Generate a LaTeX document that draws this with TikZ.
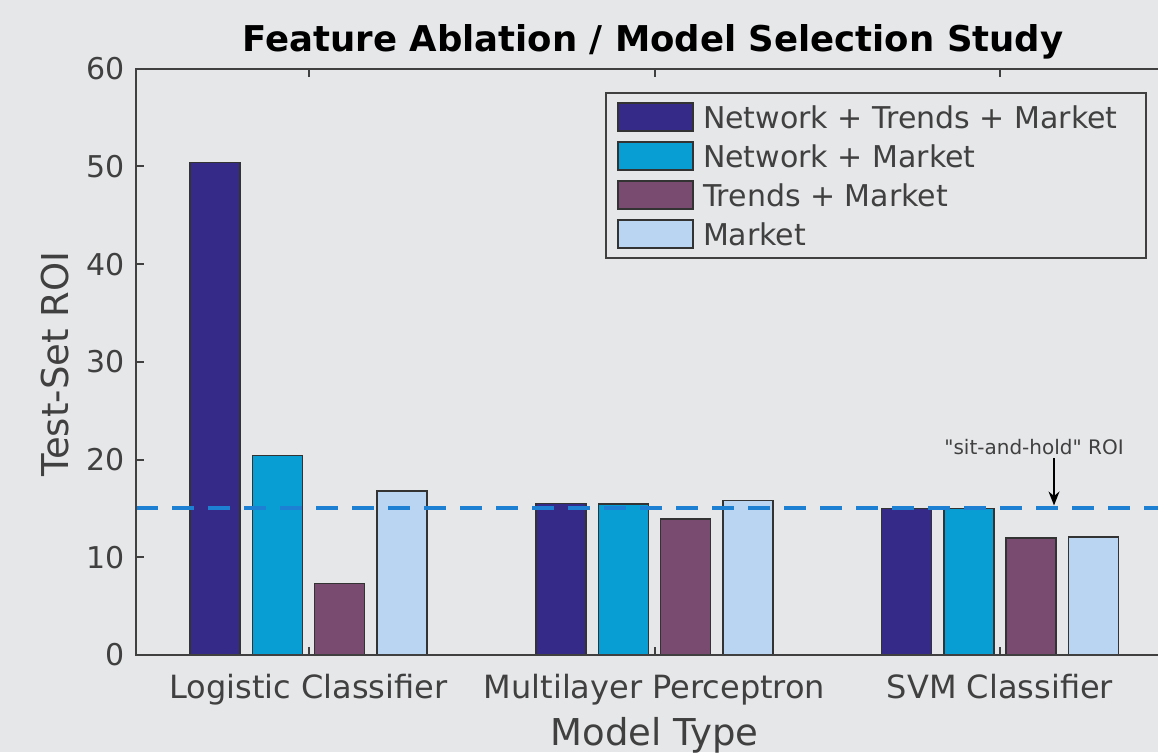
\documentclass[tikz,border=0pt]{standalone}
\usepackage{fontspec}
\setmainfont{DejaVu Sans}
\usetikzlibrary{positioning}
\usetikzlibrary{arrows.meta}

\definecolor{bggray}{RGB}{230,231,233}
\definecolor{axgray}{RGB}{64,64,64}
\definecolor{feat0}{RGB}{53,42,135}
\definecolor{feat1}{RGB}{8,158,212}
\definecolor{feat2}{RGB}{122,75,112}
\definecolor{feat3}{RGB}{186,213,242}
\definecolor{holdblue}{RGB}{30,128,210}

\tikzset{
  axisline/.style={axgray, line width=2pt},
  bar/.style={draw=black!80, line width=1.6pt},
  holdline/.style={holdblue, line width=4pt, dash pattern=on 22pt off 14pt},
  holdarrow/.style={-{Stealth[length=14pt, width=11pt]}, line width=1.4pt, black},
  ticklabel/.style={text=axgray, font=\fontsize{30}{34}\selectfont},
  catlabel/.style={text=axgray, font=\fontsize{32}{36}\selectfont},
  axlabel/.style={text=axgray, font=\fontsize{37}{42}\selectfont},
  titletext/.style={text=black, font=\bfseries\fontsize{35.5}{40}\selectfont},
  notetext/.style={text=axgray, font=\fontsize{20}{24}\selectfont},
  legendbox/.style={draw=axgray, line width=1.6pt, fill=bggray},
  swatch/.style={draw=black!80, line width=1.6pt, minimum width=75pt, minimum height=28pt, inner sep=0pt},
  legendtext/.style={text=axgray, font=\fontsize{30}{34}\selectfont, inner sep=0pt},
}

\begin{document}
\begin{tikzpicture}[x=1pt, y=1pt]
  \fill[bggray] (0,0) rectangle (1158,752); % figure background
  \useasboundingbox (0,0) rectangle (1158,752);

  \node[titletext, anchor=base] (title) at (653,700) {Feature Ablation / Model Selection Study};

  \begin{scope}[shift={(136,97)}, y=9.77pt] % data units: x in pt, y in ROI
    % one group of four bars per model
    \foreach \gx/\vals [count=\g] in {172.5/{50.4,20.4,7.3,16.8}, 518.5/{15.5,15.45,13.9,15.8}, 864/{15.0,15.0,12.0,12.1}} {
      \coordinate (group\g) at (\gx,0);
      \coordinate (gtop\g) at (\gx,60);
      \foreach \v [count=\k from 0] in \vals
        \draw[bar, fill=feat\k] ({\gx+(\k-1.5)*62.3-25},0) rectangle ({\gx+(\k-1.5)*62.3+25},\v);
    }
    \draw[holdline] (0,15) -- (1022,15); % sit-and-hold level
    \coordinate (holdtip) at (918,15);

    \draw[axisline] (1022,0) -- (0,0) -- (0,60) -- (1022,60);
    \foreach \t in {0,10,...,60} {
      \draw[axisline] (0,\t) -- (8,\t);
      \node[ticklabel, anchor=east] (ytick\t) at (-8,\t) {\t};
    }
    \foreach \g in {1,2,3} {
      \draw[axisline] (group\g) -- ++(0,0.8);
      \draw[axisline] (gtop\g) -- ++(0,-0.8);
    }
  \end{scope}

  \foreach \g/\name in {1/Logistic Classifier, 2/Multilayer Perceptron, 3/SVM Classifier}
    \node[catlabel, anchor=base] (cat\g) at ([yshift=-43pt]group\g) {\name};
  \node[axlabel, anchor=base] (xlabel) at ([yshift=-90pt]group2) {Model Type};
  \node[axlabel, rotate=90] (ylabel) at (55,388) {Test-Set ROI};

  % legend
  \draw[legendbox] (606,494) rectangle (1146,659);
  \foreach \name [count=\k from 0] in {Network + Trends + Market, Network + Market, Trends + Market, Market} {
    \node[swatch, fill=feat\k] (swatch\k) at (655.5,{635-39*\k}) {};
    \node[legendtext, right=9pt of swatch\k] (legtext\k) {\name};
  }

  \node[notetext] (holdnote) at (1034,305) {\textquotedbl sit-and-hold\textquotedbl{} ROI};
  \draw[holdarrow, shorten >=3pt] (holdnote.south -| holdtip) -- (holdtip);
\end{tikzpicture}
\end{document}
